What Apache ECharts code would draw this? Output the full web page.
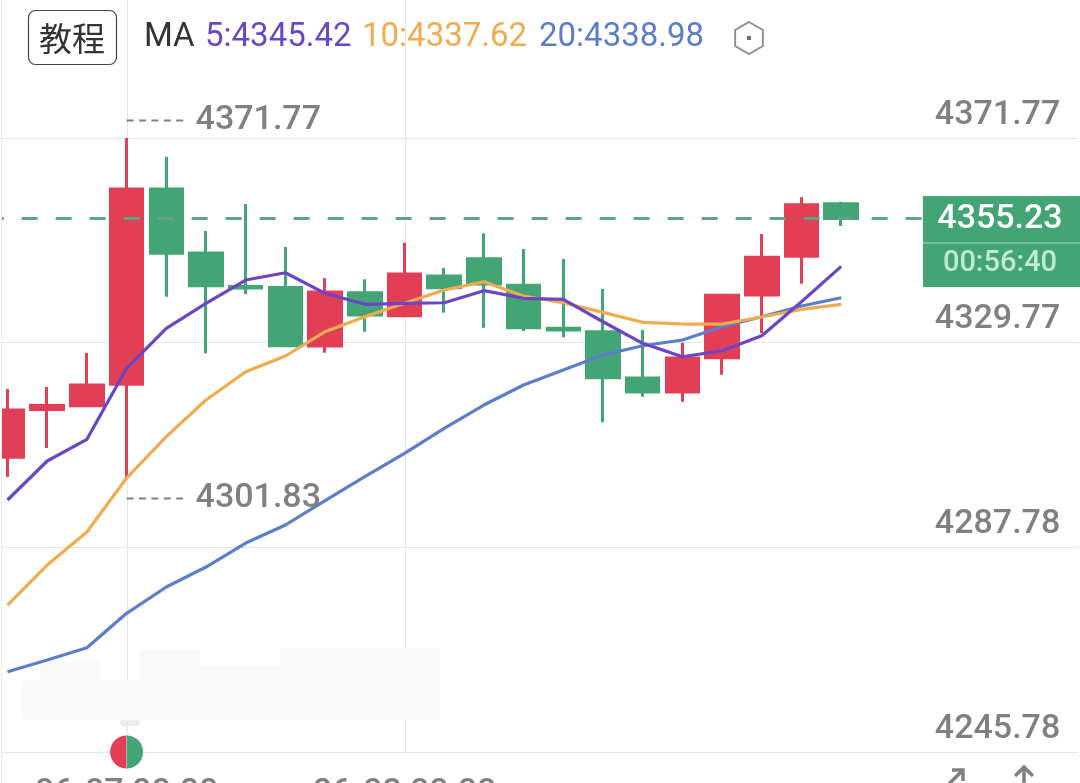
<!DOCTYPE html>
<html><head><meta charset="utf-8">
<style>html,body{margin:0;padding:0;background:#fff;overflow:hidden}#c{width:1080px;height:783px}</style>
<script src="https://cdn.jsdelivr.net/npm/echarts@6/dist/echarts.min.js"></script>
</head><body><div id="c"></div>
<script>
const categories = ['','','','06-07 00:00','','','','','','','06-08 00:00','','','','','','','','','','','','','','','','',''];
// [open, close, low, high]
const candles = [
[4306.25,4315.96,4302.21,4320.26],[4316.06,4316.88,4308.16,4320.68],[4316.84,4321.09,4316.84,4327.65],
[4321.23,4361.30,4301.83,4371.77],[4361.30,4348.11,4339.20,4367.93],[4348.17,4341.46,4327.59,4352.69],
[4341.30,4340.99,4339.76,4358.23],[4341.09,4329.15,4329.15,4349.40],[4329.09,4340.17,4327.71,4342.98],
[4340.03,4335.45,4332.02,4342.78],[4335.31,4343.86,4335.31,4350.29],[4343.45,4341.05,4335.92,4345.16],
[4347.00,4341.81,4332.84,4352.21],[4341.54,4332.84,4332.17,4348.99],[4332.72,4332.37,4330.87,4346.94],
[4332.02,4322.58,4313.43,4340.78],[4322.52,4319.65,4318.68,4332.37],[4319.65,4326.63,4317.66,4329.77],
[4326.69,4339.49,4323.20,4339.49],[4339.55,4347.29,4331.69,4352.07],[4347.50,4358.08,4341.87,4359.60],
[4358.29,4355.23,4353.71,4358.70]];
const ma5 = [4297.49,4305.49,4309.94,4324.51,4332.72,4337.85,4342.63,4344.13,4339.90,4337.65,4337.85,4337.97,4340.44,4338.88,4338.67,4334.07,4329.64,4326.89,4328.12,4331.20,4338.18,4345.42];
const ma10 = [4275.94,4284.15,4290.92,4302.00,4310.48,4318.01,4323.81,4327.04,4332.02,4335.10,4337.85,4340.58,4342.28,4339.35,4337.97,4336.00,4333.95,4333.60,4333.60,4335.04,4336.62,4337.62];
const ma20 = [4262.25,4264.66,4267.18,4274.24,4279.64,4283.74,4288.66,4292.36,4297.34,4302.27,4307.07,4312.20,4316.98,4321.09,4324.16,4327.24,4329.15,4330.32,4333.05,4335.10,4337.30,4338.98];
const yTicks = [4245.78,4287.78,4329.77,4371.77];
const lastPrice = 4355.23;
const countdown = '00:56:40';
const highPoint = {index:3, value:4371.77};
const lowPoint = {index:3, value:4301.83};
const timeMarks = [3,10];

const RED='#e23f57', GREEN='#43a574', GRAY='#808080', PURPLE='#6b46c4', ORANGE='#eeab4f', BLUE='#5b7ec6', NUM='Roboto,sans-serif';
const chart = echarts.init(document.getElementById('c'),null,{renderer:'canvas'});
const hasLabel=(i,v)=>v!=='';
const maSeries=(name,data,color)=>({name,type:'line',data,symbol:'none',smooth:false,z:3,clip:false,lineStyle:{color,width:3.2},itemStyle:{color}});
chart.setOption({
  animation:false,backgroundColor:'#fff',
  grid:{left:-12.35,top:0,width:1111.6,height:752,containLabel:false,outerBoundsMode:'none'},
  xAxis:{type:'category',data:categories,boundaryGap:true,
    axisLine:{show:false},
    axisTick:{show:false},
    splitLine:{show:false},
    axisLabel:{interval:hasLabel,margin:24,color:GRAY,fontFamily:NUM,fontWeight:500,fontSize:34,verticalAlign:'top'}},
  yAxis:{type:'value',position:'right',min:4245.78,max:4400.09,
    axisLine:{show:false},
    axisTick:{show:false,customValues:yTicks},
    splitLine:{show:true,lineStyle:{color:'#e6e6e6',width:1}},
    axisLabel:{customValues:yTicks,inside:true,margin:39,color:GRAY,fontFamily:NUM,fontWeight:500,fontSize:34,verticalAlign:'bottom',
      formatter:v=>v.toFixed(2),padding:[0,0,6,0]}},
  series:[
    {type:'candlestick',data:candles,barWidth:33,z:2,
      itemStyle:{color:RED,color0:GREEN,borderColor:RED,borderColor0:GREEN,borderWidth:3},
      markLine:{silent:true,symbol:'none',animation:false,label:{show:false},
        lineStyle:{color:'#5fa585',type:[16,18],width:3},data:[{yAxis:lastPrice}]}},
    maSeries('MA20',ma20,BLUE),
    maSeries('MA10',ma10,ORANGE),
    maSeries('MA5',ma5,PURPLE)
  ]
});

const txt=(x,y,text,fill,font,align,z)=>({type:'text',z:z||10,x,y,style:{text,fill,font,textAlign:align||'left',textVerticalAlign:'middle'}});
const pin=(p,dy)=>{const c=chart.convertToPixel({gridIndex:0},[p.index,p.value]);const yy=Math.round(c[1]+dy)+0.5;return [
  {type:'line',z:10,shape:{x1:c[0],y1:yy,x2:c[0]+62,y2:yy},style:{stroke:GRAY,lineWidth:2,lineDash:[7,5.4]}},
  txt(c[0]+69,yy,p.value.toFixed(2),GRAY,'500 34px '+NUM)];};
const vLine=i=>{const c=chart.convertToPixel({gridIndex:0},[i,yTicks[0]]);const xx=Math.round(c[0])+0.5;return {type:'line',z:0,shape:{x1:xx,y1:0,x2:xx,y2:c[1]},style:{stroke:'#e6e6e6',lineWidth:1}};};
const mc=chart.convertToPixel({gridIndex:0},[highPoint.index,yTicks[0]]);
const hex=[];for(let k=0;k<6;k++){const a=Math.PI/3*k-Math.PI/2;hex.push([749+16*Math.cos(a),38+16*Math.sin(a)]);}
const blur=(x,y,w,h,f)=>({type:'rect',z:1,shape:{x,y,width:w,height:h,r:3},style:{fill:f||'#f9f9f9'}});
chart.setOption({graphic:{elements:[
  ...timeMarks.map(vLine),
  blur(22,680,120,40),blur(40,660,60,30),blur(140,650,60,70),blur(200,665,120,55),blur(280,648,160,72),
  blur(120,720,20,6,'#ececec'),
  {type:'rect',z:10,shape:{x:0,y:0,width:2,height:783},style:{fill:'#fff'}},
  {type:'line',z:11,shape:{x1:1.5,y1:0,x2:1.5,y2:783},style:{stroke:'#ececec',lineWidth:1}},
  {type:'rect',z:10,shape:{x:1078,y:0,width:2,height:783},style:{fill:'#fff'}},
  {type:'rect',z:10,shape:{x:28.5,y:10.5,width:88,height:54,r:7},style:{fill:'#fff',stroke:'#454545',lineWidth:1.2}},
  txt(72,38,'教程','#333','33px "Noto Sans CJK SC"','center'),
  txt(144,38,'MA','#333','33px Roboto'),
  txt(205,38,'5:'+ma5[21].toFixed(2),PURPLE,'33px Roboto'),
  txt(362,38,'10:'+ma10[21].toFixed(2),ORANGE,'33px Roboto'),
  txt(539,38,'20:'+ma20[21].toFixed(2),BLUE,'33px Roboto'),
  {type:'polygon',z:10,shape:{points:hex},style:{fill:'none',stroke:'#909090',lineWidth:2}},
  {type:'rect',z:10,shape:{x:747,y:36,width:4,height:4},style:{fill:'#707070'}},
  ...pin(highPoint,-18),
  ...pin(lowPoint,19),
  {type:'rect',z:10,shape:{x:923,y:196,width:157,height:91},style:{fill:GREEN}},
  {type:'line',z:11,shape:{x1:923,y1:243,x2:1080,y2:243},style:{stroke:'#a8d8c0',lineWidth:1}},
  txt(1000,219,lastPrice.toFixed(2),'#fff','500 34px '+NUM,'center',12),
  txt(1000,264,countdown,'#c3e8d5','500 29px '+NUM,'center',12),
  {type:'sector',z:10,shape:{cx:mc[0],cy:mc[1],r:16.5,startAngle:Math.PI/2,endAngle:Math.PI*1.5},style:{fill:RED}},
  {type:'sector',z:10,shape:{cx:mc[0],cy:mc[1],r:16.5,startAngle:-Math.PI/2,endAngle:Math.PI/2},style:{fill:GREEN}},
  {type:'line',z:11,shape:{x1:mc[0],y1:mc[1]-16.5,x2:mc[0],y2:mc[1]+16.5},style:{stroke:'#b0b0b0',lineWidth:1}},
  {type:'polyline',z:10,shape:{points:[[952,770],[963,770],[963,781]]},style:{fill:'none',stroke:GRAY,lineWidth:3.5}},
  {type:'line',z:10,shape:{x1:963,y1:770,x2:948,y2:785},style:{stroke:GRAY,lineWidth:3.5}},
  {type:'polyline',z:10,shape:{points:[[1015,776],[1024,767],[1033,776]]},style:{fill:'none',stroke:GRAY,lineWidth:3.5}},
  {type:'line',z:10,shape:{x1:1024,y1:767,x2:1024,y2:785},style:{stroke:GRAY,lineWidth:3.5}}
]}});
</script></body></html>
